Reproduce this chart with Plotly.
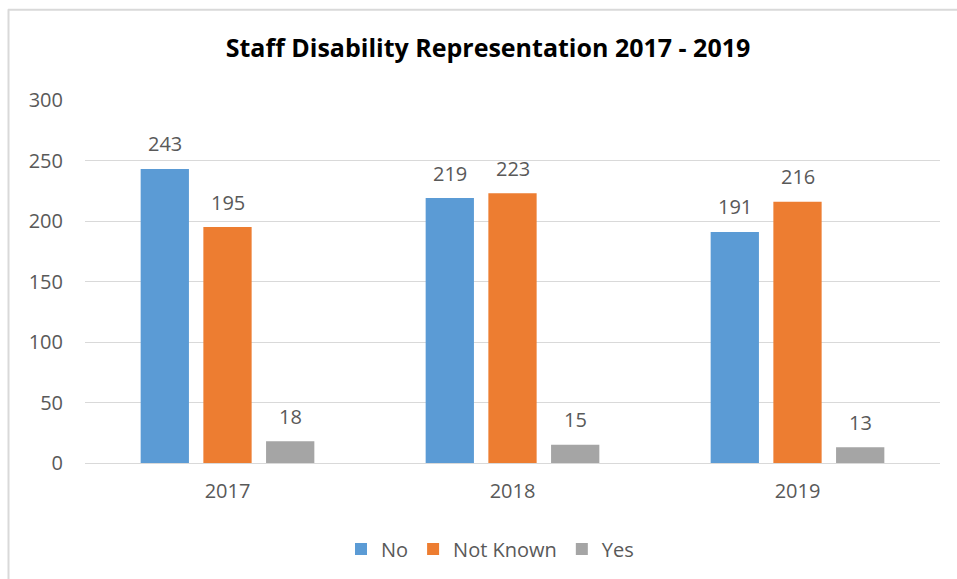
import plotly.graph_objects as go

years = ["2017", "2018", "2019"]
series_names = ["No", "Not Known", "Yes"]
no_vals = [243, 219, 191]
not_known_vals = [195, 223, 216]
yes_vals = [18, 15, 13]
colors = ["#5B9BD5", "#ED7D31", "#A5A5A5"]
y_ticks = [0, 50, 100, 150, 200, 250, 300]

W, H = 957, 579
L, T = 85, 100
R = W - 940
B = H - 464
pw, ph = W - L - R, H - T - B

FONT = "Open Sans"
GREY = "#595959"

fig = go.Figure()
all_vals = [no_vals, not_known_vals, yes_vals]
for name, vals, col in zip(series_names, all_vals, colors):
    fig.add_trace(go.Bar(
        x=years, y=vals, name=name, marker=dict(color=col, line=dict(width=0)),
        textposition="none", offsetgroup=name,
    ))

def px_x(p):
    return (p - L) / pw

def px_y(p):
    return (H - B - p) / ph

annotations = []
n = len(series_names)
bargap, bargroupgap = 0.34, 0.23
slot = (1 - bargap) / n
for si, vals in enumerate(all_vals):
    for ci, v in enumerate(vals):
        xoff = -0.5 * (1 - bargap) + slot * (si + 0.5)
        annotations.append(dict(
            x=ci + xoff, y=v, xref="x", yref="y", text=str(v), showarrow=False,
            yanchor="middle", yshift=25,
            font=dict(size=20, color=GREY, family=FONT),
        ))

fig.update_layout(
    width=W, height=H,
    margin=dict(l=L, r=R, t=T, b=B),
    paper_bgcolor="white", plot_bgcolor="white",
    barmode="group", bargap=bargap, bargroupgap=bargroupgap,
    title=dict(text="<b>Staff Disability Representation 2017 - 2019</b>",
               x=px_x(488), xanchor="center", xref="paper",
               y=1 - 48 / H, yanchor="middle",
               font=dict(size=25, color="black", family=FONT)),
    font=dict(family=FONT, color=GREY, size=20),
    xaxis=dict(showgrid=False, showline=True, linecolor="#D9D9D9", linewidth=1,
               ticks="", tickfont=dict(size=20, color=GREY), ticklabelstandoff=10,
               type="category", range=[-0.5, 2.5]),
    yaxis=dict(range=[0, 300], tickvals=y_ticks, showgrid=True, gridcolor="#D9D9D9",
               gridwidth=1, zeroline=False, showline=False, ticks="",
               tickfont=dict(size=20, color=GREY), ticklabelstandoff=21),
    legend=dict(orientation="h", x=px_x(490), xanchor="center", y=px_y(549), yanchor="middle",
                font=dict(size=20, color=GREY), itemwidth=30, traceorder="normal"),
    annotations=annotations,
    shapes=[
        dict(type="line", xref="paper", yref="paper", x0=px_x(8), x1=px_x(960),
             y0=px_y(9.5), y1=px_y(9.5), line=dict(color="#D9D9D9", width=2)),
        dict(type="line", xref="paper", yref="paper", x0=px_x(8.5), x1=px_x(8.5),
             y0=px_y(9), y1=px_y(585), line=dict(color="#D9D9D9", width=2)),
    ],
)

fig.write_html(
    "out.html",
    config={"displayModeBar": False},
    post_script="document.body.style.margin='0';document.body.style.overflow='hidden';",
)
